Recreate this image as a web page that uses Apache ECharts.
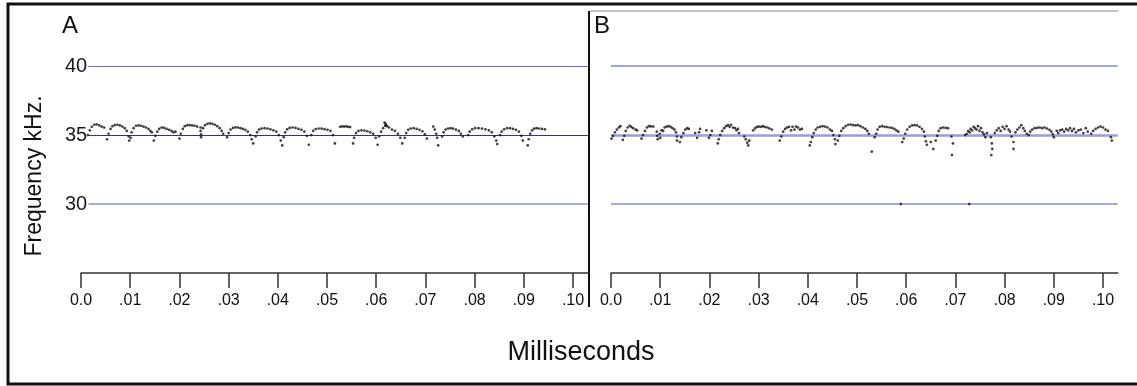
<!DOCTYPE html>
<html>
<head>
<meta charset="utf-8">
<script src="https://cdn.jsdelivr.net/npm/echarts@6/dist/echarts.min.js"></script>
<style>
html,body{margin:0;padding:0;background:#fff;}
#chart{width:1137px;height:386px;}
</style>
</head>
<body>
<div id="chart"></div>
<script>
// ---- data (time in ms, frequency in kHz) ----
const panelLabels = ['A', 'B'];
const xTickValues = [0, 0.01, 0.02, 0.03, 0.04, 0.05, 0.06, 0.07, 0.08, 0.09, 0.10];
const xTickLabels = ['0.0', '.01', '.02', '.03', '.04', '.05', '.06', '.07', '.08', '.09', '.10'];
const yTickValues = [30, 35, 40];
const yTickLabels = ['30', '35', '40'];
const lineLevels = [40, 35, 30];

const seriesA = [
  [0.0014,35.0],[0.0018,35.35],[0.0022,35.6],[0.0027,35.75],[0.0032,35.78],[0.0037,35.7],[0.0042,35.62],[0.0047,35.55],
  [0.0053,34.7],[0.0056,35.1],[0.0060,35.45],[0.0064,35.65],[0.0069,35.73],[0.0074,35.75],[0.0079,35.7],[0.0084,35.62],[0.0089,35.5],[0.0093,35.3],[0.0097,34.9],[0.0098,34.6],
  [0.0101,34.8],[0.0103,35.2],[0.0107,35.5],[0.0112,35.68],[0.0117,35.7],[0.0122,35.68],[0.0127,35.62],[0.0132,35.55],[0.0137,35.45],[0.0141,35.3],[0.0144,35.2],
  [0.0148,34.6],[0.0151,34.95],[0.0155,35.25],[0.0159,35.45],[0.0164,35.55],[0.0169,35.52],[0.0174,35.45],[0.0179,35.38],[0.0184,35.3],[0.0188,35.2],[0.0192,35.25],
  [0.0200,34.75],[0.0203,35.1],[0.0207,35.45],[0.0211,35.65],[0.0216,35.72],[0.0221,35.72],[0.0226,35.7],[0.0231,35.68],[0.0236,35.62],
  [0.0243,35.55],[0.0243,35.3],[0.0244,35.05],[0.0244,34.85],[0.0248,35.5],[0.0252,35.72],[0.0257,35.82],[0.0262,35.85],[0.0267,35.82],[0.0272,35.75],[0.0277,35.65],[0.0282,35.5],[0.0286,35.3],[0.0289,35.1],
  [0.0297,34.85],[0.0300,35.15],[0.0304,35.4],[0.0309,35.52],[0.0314,35.56],[0.0319,35.55],[0.0324,35.5],[0.0329,35.45],[0.0334,35.38],[0.0339,35.25],[0.0344,35.0],[0.0347,34.7],[0.0350,34.4],
  [0.0355,34.9],[0.0358,35.2],[0.0362,35.4],[0.0367,35.48],[0.0373,35.5],[0.0379,35.47],[0.0385,35.42],[0.0391,35.35],[0.0397,35.25],[0.0402,35.0],[0.0406,34.6],[0.0409,34.25],
  [0.0412,34.85],[0.0415,35.2],[0.0419,35.42],[0.0424,35.52],[0.0430,35.55],[0.0436,35.52],[0.0442,35.45],[0.0448,35.38],[0.0454,35.25],[0.0459,34.95],[0.0463,34.3],
  [0.0468,35.0],[0.0472,35.3],[0.0477,35.44],[0.0483,35.48],[0.0489,35.47],[0.0495,35.43],[0.0501,35.38],[0.0507,35.3],[0.0512,35.0],[0.0516,34.4],
  [0.0527,35.6],[0.0531,35.63],[0.0535,35.62],[0.0539,35.64],[0.0543,35.6],[0.0547,35.58],
  [0.0553,34.4],[0.0555,34.8],[0.0559,35.15],[0.0564,35.3],[0.0570,35.35],[0.0576,35.33],[0.0582,35.28],[0.0588,35.2],[0.0594,35.1],[0.0599,34.8],[0.0603,34.3],
  [0.0606,34.9],[0.0610,35.25],[0.0614,35.5],[0.0617,35.9],[0.0618,35.68],[0.0619,35.82],[0.0620,35.72],[0.0622,35.65],[0.0626,35.55],[0.0632,35.4],[0.0638,35.3],[0.0644,35.1],[0.0649,34.8],[0.0653,34.4],
  [0.0658,34.8],[0.0661,35.15],[0.0665,35.38],[0.0670,35.48],[0.0676,35.5],[0.0682,35.45],[0.0688,35.38],[0.0694,35.28],[0.0699,35.05],[0.0703,34.75],
  [0.0716,35.62],[0.0719,35.4],[0.0722,35.1],[0.0724,34.8],[0.0726,34.25],
  [0.0734,34.9],[0.0737,35.2],[0.0741,35.4],[0.0746,35.48],[0.0751,35.5],[0.0756,35.47],[0.0762,35.4],[0.0768,35.3],[0.0772,35.1],[0.0776,34.9],
  [0.0787,35.0],[0.0790,35.25],[0.0795,35.42],[0.0801,35.5],[0.0808,35.5],[0.0815,35.47],[0.0822,35.42],[0.0829,35.35],[0.0835,35.2],[0.0840,34.9],[0.0844,34.6],[0.0846,34.35],
  [0.0852,35.0],[0.0855,35.25],[0.0860,35.42],[0.0866,35.5],[0.0872,35.5],[0.0878,35.45],[0.0884,35.38],[0.0890,35.25],[0.0895,34.95],[0.0898,34.6],
  [0.0908,34.25],[0.0910,34.7],[0.0913,35.1],[0.0917,35.35],[0.0921,35.47],[0.0926,35.5],[0.0931,35.48],[0.0937,35.45],[0.0943,35.42]
];

const seriesB = [
  [0.0001,34.75],[0.0004,34.95],[0.0008,35.2],[0.0012,35.4],[0.0016,35.55],[0.0019,35.65],
  [0.0024,34.65],[0.0027,34.95],[0.0030,35.3],[0.0034,35.55],[0.0038,35.68],[0.0041,35.6],[0.0045,35.5],[0.0050,35.4],[0.0053,35.35],
  [0.0062,34.75],[0.0065,35.0],[0.0069,35.3],[0.0073,35.55],[0.0077,35.65],[0.0081,35.63],[0.0086,35.62],
  [0.0093,35.25],[0.0094,34.95],[0.0095,34.7],[0.0099,35.1],[0.0100,34.8],[0.0103,35.35],[0.0106,35.3],[0.0109,35.55],[0.0113,35.62],[0.0117,35.65],[0.0121,35.6],[0.0125,35.5],[0.0129,35.4],[0.0132,35.2],[0.0134,34.9],[0.0134,34.6],
  [0.0140,34.5],[0.0143,34.85],[0.0147,35.15],[0.0151,35.4],[0.0155,35.5],[0.0158,35.45],
  [0.0171,35.15],[0.0175,34.8],[0.0179,35.2],[0.0181,35.45],
  [0.0194,35.35],[0.0199,34.8],[0.0202,35.0],[0.0205,35.3],
  [0.0217,34.4],[0.0219,34.7],[0.0222,35.0],[0.0226,35.3],[0.0230,35.5],[0.0234,35.65],[0.0238,35.72],[0.0241,35.6],[0.0244,35.75],[0.0248,35.55],[0.0252,35.5],[0.0255,35.35],[0.0258,35.45],[0.0260,35.15],
  [0.0271,34.9],[0.0274,34.7],[0.0277,34.45],[0.0279,34.25],[0.0281,34.6],
  [0.0289,35.35],[0.0293,35.5],[0.0297,35.6],[0.0301,35.62],[0.0305,35.6],[0.0309,35.65],[0.0313,35.58],[0.0318,35.55],[0.0322,35.48],[0.0327,35.4],
  [0.0343,34.6],[0.0346,34.9],[0.0350,35.25],[0.0354,35.45],[0.0358,35.55],[0.0362,35.6],[0.0366,35.35],[0.0369,35.6],[0.0373,35.4],[0.0376,35.62],[0.0380,35.55],[0.0384,35.4],[0.0388,35.45],
  [0.0404,34.25],[0.0406,34.5],[0.0409,34.85],[0.0412,35.15],[0.0416,35.4],[0.0420,35.55],[0.0425,35.6],[0.0430,35.65],[0.0435,35.62],[0.0440,35.55],[0.0445,35.4],[0.0449,35.3],[0.0452,35.0],[0.0455,34.7],[0.0456,34.35],
  [0.0461,34.6],[0.0464,34.95],[0.0468,35.3],[0.0472,35.5],[0.0477,35.65],[0.0482,35.75],[0.0487,35.77],[0.0492,35.72],[0.0497,35.7],[0.0502,35.72],[0.0507,35.65],[0.0512,35.55],[0.0517,35.45],[0.0521,35.3],[0.0524,35.1],
  [0.0530,33.8],
  [0.0536,34.85],[0.0539,35.1],[0.0542,35.4],[0.0546,35.6],[0.0551,35.65],[0.0556,35.6],[0.0561,35.58],[0.0566,35.55],[0.0571,35.52],[0.0576,35.45],[0.0580,35.35],[0.0584,35.25],
  [0.0592,34.5],[0.0595,34.75],[0.0598,35.1],[0.0602,35.4],[0.0607,35.6],[0.0612,35.7],[0.0617,35.72],[0.0622,35.7],[0.0627,35.6],[0.0632,35.45],[0.0636,35.25],[0.0638,34.9],[0.0640,34.55],[0.0642,34.3],
  [0.0650,34.5],[0.0655,34.0],[0.0660,34.6],[0.0663,34.95],[0.0666,35.3],[0.0670,35.5],[0.0675,35.55],[0.0680,35.52],[0.0685,35.5],
  [0.0692,34.9],[0.0695,34.4],[0.0693,33.55],
  [0.0720,35.0],[0.0723,35.1],[0.0726,35.3],[0.0729,35.2],[0.0731,35.45],[0.0734,35.35],[0.0737,35.6],[0.0740,35.5],[0.0743,35.4],[0.0746,35.65],[0.0749,35.3],[0.0752,35.5],[0.0755,35.2],[0.0758,35.05],[0.0761,34.85],[0.0764,35.15],
  [0.0772,34.85],[0.0774,34.4],[0.0775,34.0],[0.0773,33.55],
  [0.0780,35.15],[0.0784,35.35],[0.0788,35.5],[0.0792,35.3],[0.0796,35.6],[0.0800,35.45],[0.0804,35.65],[0.0808,35.4],[0.0811,35.25],[0.0814,34.9],[0.0818,34.5],[0.0818,34.0],[0.0822,35.2],[0.0826,35.4],[0.0830,35.55],[0.0834,35.72],[0.0838,35.5],[0.0841,35.3],
  [0.0845,35.1],[0.0849,35.0],[0.0852,35.25],[0.0856,35.4],[0.0861,35.5],[0.0866,35.52],[0.0871,35.55],[0.0876,35.5],[0.0881,35.55],[0.0886,35.48],[0.0891,35.38],[0.0895,35.25],[0.0898,35.05],[0.0900,34.85],
  [0.0906,35.3],[0.0909,35.15],[0.0913,35.35],[0.0917,35.4],[0.0921,35.25],[0.0925,35.45],[0.0929,35.35],[0.0933,35.5],[0.0937,35.3],[0.0941,35.45],[0.0945,35.2],[0.0950,35.35],[0.0955,35.4],[0.0960,35.15],[0.0965,35.5],[0.0969,35.25],
  [0.0976,35.1],[0.0980,35.3],[0.0985,35.45],[0.0990,35.55],[0.0995,35.62],[0.1000,35.55],[0.1005,35.4],[0.1010,35.3],
  [0.1016,34.85],[0.1018,34.6],
  [0.0589,30.0],[0.0728,30.0]
];

// ---- chart ----
const FONT = 'Liberation Sans, Arial, sans-serif';
const X_MAX = 0.103, Y_MIN = 25, Y_MAX = 44;
const PX_PER_MS = 4920;
const gridW = X_MAX * PX_PER_MS;

function xLabel(v) {
  const i = xTickValues.findIndex(t => Math.abs(t - v) < 1e-9);
  return i >= 0 ? xTickLabels[i] : '';
}
function yLabel(v) {
  const i = yTickValues.findIndex(t => Math.abs(t - v) < 1e-9);
  return i >= 0 ? yTickLabels[i] : '';
}

function xAxisFor(gi) {
  return {
    type: 'value', gridIndex: gi, min: 0, max: X_MAX,
    axisLine: { show: true, onZero: false, lineStyle: { color: '#333', width: 1.5 } },
    axisTick: { show: true, customValues: xTickValues, length: 15, lineStyle: { color: '#333', width: 1.5 } },
    axisLabel: { show: true, customValues: xTickValues, formatter: xLabel, margin: 20,
      fontFamily: FONT, fontSize: 16, color: '#111' },
    splitLine: { show: false }
  };
}
function yAxisFor(gi, showLabels) {
  return {
    type: 'value', gridIndex: gi, min: Y_MIN, max: Y_MAX,
    axisLine: { show: false }, axisTick: { show: false }, splitLine: { show: false },
    axisLabel: { show: showLabels, customValues: yTickValues, formatter: yLabel,
      align: 'left', margin: 16, fontFamily: FONT, fontSize: 20, color: '#1a1a1a' }
  };
}

const lineStylesA = { 40: { color: '#6a6ad4', width: 1.2 }, 35: { color: '#34347e', width: 1 }, 30: { color: '#a9a9e6', width: 2 } };
const lineStylesB = { 40: { color: '#8686dc', width: 1.5 }, 35: { color: '#9b9be2', width: 2.5 }, 30: { color: '#8a8ade', width: 1.5 } };

function markLinesFor(x0, styles) {
  return {
    silent: true, symbol: ['none', 'none'], label: { show: false }, z: 1,
    emphasis: { disabled: true },
    data: lineLevels.map(v => [
      { coord: [x0, v], lineStyle: Object.assign({ type: 'solid' }, styles[v]) },
      { coord: [X_MAX, v] }
    ])
  };
}

const chart = echarts.init(document.getElementById('chart'), null, { renderer: 'canvas' });
chart.setOption({
  animation: false,
  backgroundColor: '#fff',
  grid: [
    { left: 81, top: 11, width: gridW, height: 262 },
    { left: 611, top: 11, width: gridW, height: 262 }
  ],
  xAxis: [xAxisFor(0), xAxisFor(1)],
  yAxis: [yAxisFor(0, true), yAxisFor(1, false)],
  series: [
    { type: 'scatter', xAxisIndex: 0, yAxisIndex: 0, data: seriesA, symbol: 'circle', symbolSize: 2.7,
      itemStyle: { color: '#111' }, markLine: markLinesFor(0.0015, lineStylesA), z: 3 },
    { type: 'scatter', xAxisIndex: 1, yAxisIndex: 1, data: seriesB, symbol: 'circle', symbolSize: 2.7,
      itemStyle: { color: '#111' }, markLine: markLinesFor(0, lineStylesB), z: 3 }
  ],
  graphic: [
    { type: 'rect', shape: { x: 8, y: 4, width: 1140, height: 380 }, style: { fill: 'none', stroke: '#111', lineWidth: 3 }, silent: true },
    { type: 'line', shape: { x1: 589, y1: 11, x2: 589, y2: 307 }, style: { stroke: '#111', lineWidth: 2 }, silent: true },
    { type: 'line', shape: { x1: 590, y1: 11, x2: 1118, y2: 11 }, style: { stroke: '#b0b0b0', lineWidth: 1.5 }, silent: true },
    { type: 'text', x: 62, y: 14, style: { text: panelLabels[0], font: '24px ' + FONT, fill: '#111' } },
    { type: 'text', x: 594, y: 14, style: { text: panelLabels[1], font: '24px ' + FONT, fill: '#111' } },
    { type: 'text', x: 35, y: 176, rotation: Math.PI / 2,
      style: { text: 'Frequency kHz.', font: '23px ' + FONT, fill: '#111', align: 'center', verticalAlign: 'middle' } },
    { type: 'text', x: 581, y: 353,
      style: { text: 'Milliseconds', font: '27px ' + FONT, fill: '#111', align: 'center', verticalAlign: 'middle' } }
  ]
});
</script>
</body>
</html>
